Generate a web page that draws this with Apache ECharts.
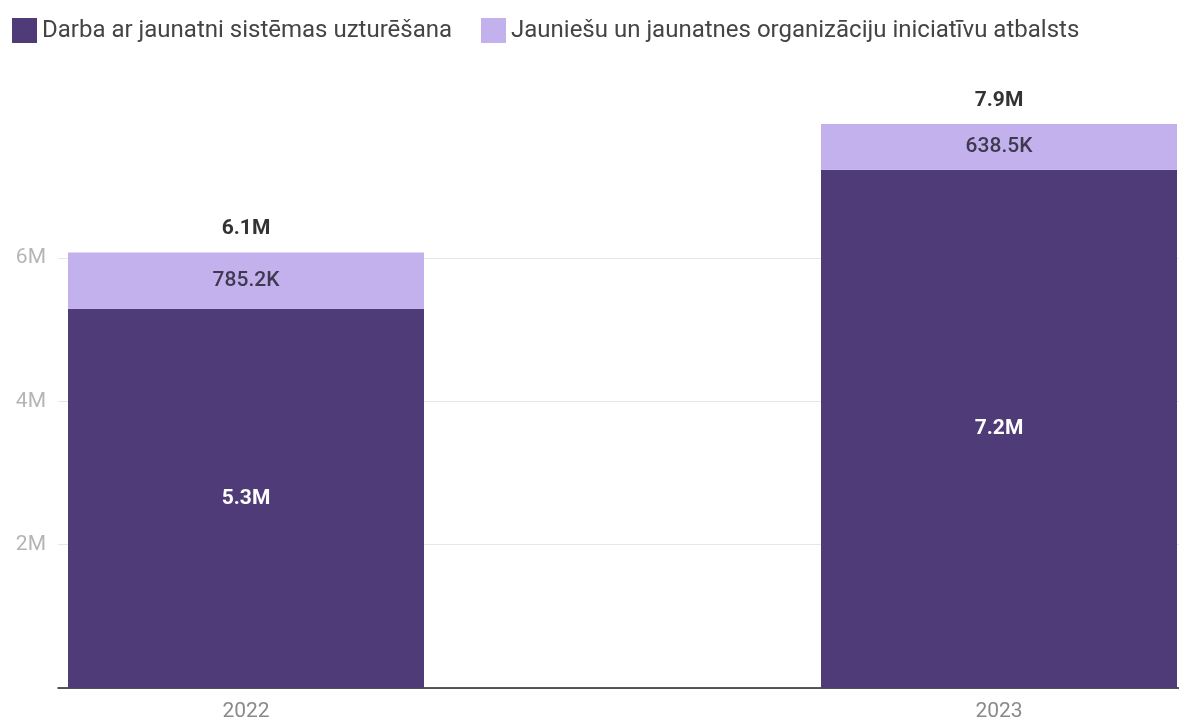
<!DOCTYPE html>
<html>
<head>
<meta charset="utf-8">
<script src="https://cdn.jsdelivr.net/npm/echarts@6/dist/echarts.min.js"></script>
<style>
html,body{margin:0;padding:0;background:#fff;}
#chart{width:1179px;height:724px;}
</style>
</head>
<body>
<div id="chart"></div>
<script>
const categories = ['2022', '2023'];
const seriesNames = ['Darba ar jaunatni sistēmas uzturēšana', 'Jauniešu un jaunatnes organizāciju iniciatīvu atbalsts'];
const systemMaintenance = [5295000, 7235000];
const initiativeSupport = [785200, 638500];
const yTicks = [2000000, 4000000, 6000000];

const totals = categories.map((c, i) => systemMaintenance[i] + initiativeSupport[i]);
const yMax = Math.max(...totals);

function fmt(v) {
  if (v >= 1e6) return (v / 1e6).toFixed(1) + 'M';
  return (v / 1e3).toFixed(1) + 'K';
}

const FONT = 'Roboto, "Noto Sans", sans-serif';
const chart = echarts.init(document.getElementById('chart'));
const gridBox = { top: 124, bottom: 36 };
chart.setOption({
  animation: false,
  textStyle: { fontFamily: FONT },
  legend: {
    left: 7, top: 13,
    itemWidth: 25, itemHeight: 25, itemGap: 29,
    icon: 'rect',
    data: seriesNames,
    textStyle: { fontSize: 24, color: '#444', fontFamily: FONT }
  },
  grid: [
    Object.assign({ left: 58, right: 0 }, gridBox),
    Object.assign({ left: 246, right: 180 }, gridBox)
  ],
  xAxis: [
    {
      gridIndex: 0, type: 'category', data: categories,
      axisLine: { show: true, lineStyle: { color: '#222', width: 1.5 } },
      axisTick: { show: false },
      axisLabel: { show: false },
      splitLine: { show: false }
    },
    {
      gridIndex: 1, type: 'category', data: categories, boundaryGap: false,
      axisLine: { show: false },
      axisTick: { show: false },
      splitLine: { show: false },
      axisLabel: { fontSize: 21, color: '#8a8a8a', margin: 13, fontFamily: FONT }
    }
  ],
  yAxis: [
    {
      gridIndex: 0, type: 'value', min: 0, max: yMax, interval: 2000000,
      axisLine: { show: false },
      axisTick: { show: false },
      splitLine: { show: true, showMaxLine: false, lineStyle: { color: '#e6e6e6', width: 1 } },
      axisLabel: {
        customValues: yTicks,
        formatter: v => (v / 1e6) + 'M',
        fontSize: 21, color: '#b5b5b5', margin: 12, fontFamily: FONT
      }
    },
    {
      gridIndex: 1, type: 'value', min: 0, max: yMax, show: false
    }
  ],
  series: [
    {
      name: seriesNames[0], type: 'bar', stack: 's', barWidth: 356, clip: false,
      xAxisIndex: 1, yAxisIndex: 1,
      itemStyle: { color: '#4f3b78' },
      label: { show: true, position: 'inside', formatter: p => fmt(p.value),
        color: '#fff', fontWeight: 'bold', fontSize: 21, fontFamily: FONT },
      data: systemMaintenance
    },
    {
      name: seriesNames[1], type: 'bar', stack: 's', barWidth: 356, clip: false,
      xAxisIndex: 1, yAxisIndex: 1,
      itemStyle: { color: '#c3b1ed' },
      label: { show: true, position: 'inside', formatter: p => fmt(p.value),
        color: '#3e3a4f', fontWeight: 500, fontSize: 21, fontFamily: FONT },
      data: initiativeSupport
    },
    {
      name: 'total', type: 'bar', stack: 's', barWidth: 356, clip: false,
      xAxisIndex: 1, yAxisIndex: 1,
      itemStyle: { color: 'transparent' },
      label: { show: true, position: 'top', distance: 13,
        formatter: p => fmt(totals[p.dataIndex]),
        color: '#333', fontWeight: 'bold', fontSize: 21, fontFamily: FONT },
      data: categories.map(() => 0)
    }
  ]
});
</script>
</body>
</html>
